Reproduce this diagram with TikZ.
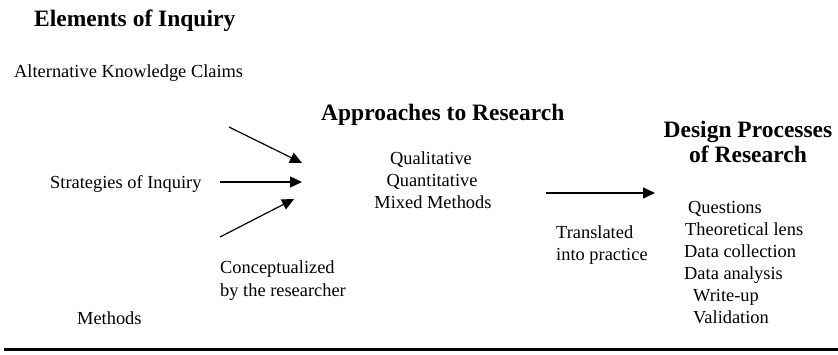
\documentclass[tikz,border=0pt]{standalone}
\usepackage{fontspec}
\setmainfont{Liberation Serif}
\usetikzlibrary{arrows.meta}
\tikzset{
  txt/.style={inner sep=0pt, font=\fontsize{18.4}{22}\selectfont},
  head/.style={inner sep=0pt, font=\fontsize{23.5}{26}\selectfont\bfseries, align=center},
  arr/.style={line width=1.2pt, -{Triangle[length=12pt,width=11pt]}}
}
\begin{document}
\begin{tikzpicture}[x=1pt,y=-1pt]
\useasboundingbox (0,0) rectangle (838,354);
% headings
\node[head, anchor=base west] (elements) at (34,26) {Elements of Inquiry};
\node[head, anchor=base west] (approaches) at (321,120) {Approaches to Research};
\node[head, anchor=base] (design1) at (748,137) {Design Processes};
\node[head, anchor=base] (design2) at (748,162) {of Research};
% left column
\node[txt, anchor=base west] (akc) at (14,77) {Alternative Knowledge Claims};
\node[txt, anchor=base west] (soi) at (50,188) {Strategies of Inquiry};
\node[txt, anchor=base west] (meth) at (77,324) {Methods};
\node[txt, anchor=base west] (conc1) at (220,273) {Conceptualized};
\node[txt, anchor=base west] (conc2) at (220,296) {by the researcher};
% approaches
\node[txt, anchor=base] (qual) at (431,164) {Qualitative};
\node[txt, anchor=base] (quan) at (432,186) {Quantitative};
\node[txt, anchor=base] (mixed) at (433,208) {Mixed Methods};
% translated
\node[txt, anchor=base west] (trans1) at (556,238) {Translated};
\node[txt, anchor=base west] (trans2) at (556,260) {into practice};
% design list
\node[txt, anchor=base west] (q) at (688,213) {Questions};
\node[txt, anchor=base west] (tl) at (685,235) {Theoretical lens};
\node[txt, anchor=base west] (dc) at (684,257) {Data collection};
\node[txt, anchor=base west] (da) at (684,279) {Data analysis};
\node[txt, anchor=base west] (wu) at (693,301) {Write-up};
\node[txt, anchor=base west] (val) at (693,323) {Validation};
% arrows
\coordinate (a1s) at (229,127);
\coordinate (a1e) at (302,163);
\coordinate (a2s) at (220,182);
\coordinate (a2e) at (302,182);
\coordinate (a3s) at (220,237);
\coordinate (a3e) at (294,199);
\coordinate (a4s) at (546,193);
\coordinate (a4e) at (655,193);
\draw[arr] (a1s) -- (a1e);
\draw[arr] (a2s) -- (a2e);
\draw[arr] (a3s) -- (a3e);
\draw[arr] (a4s) -- (a4e);
% bottom rule
\coordinate (r1) at (4,349.5);
\coordinate (r2) at (838,349.5);
\draw[line width=2.2pt] (r1) -- (r2);
\end{tikzpicture}
\end{document}
